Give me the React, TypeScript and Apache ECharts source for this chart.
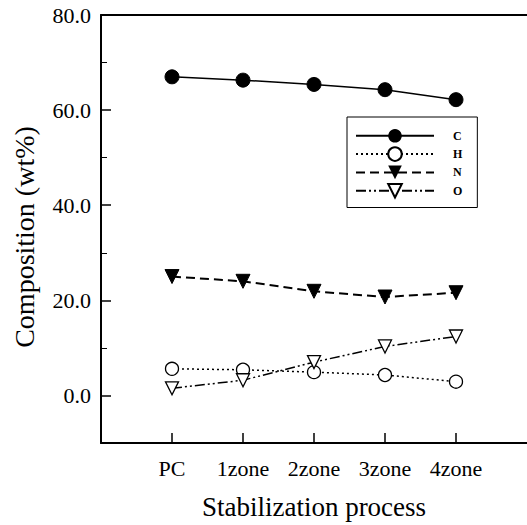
import React, { useEffect, useRef } from "react";
import * as echarts from "echarts";

const categories = ["PC", "1zone", "2zone", "3zone", "4zone"];
const seriesNames = ["C", "H", "N", "O"];
const cValues = [67.0, 66.3, 65.4, 64.3, 62.2];
const hValues = [5.6, 5.4, 4.9, 4.3, 2.9];
const nValues = [25.0, 24.0, 21.9, 20.7, 21.6];
const oValues = [1.5, 3.2, 7.0, 10.3, 12.4];
const yMajorTicks = [0, 20, 40, 60, 80];
const yMinorTicks = [-10, 10, 30, 50, 70];
const categoryIndices = [0, 1, 2, 3, 4];

const FONT = "Liberation Serif";

export default function App() {
  const ref = useRef<HTMLDivElement>(null);
  useEffect(() => {
    if (!ref.current) return;
    const chart = echarts.init(ref.current, undefined, { renderer: "svg" });
    const toData = (vals: number[]) => vals.map((v, i) => [categoryIndices[i], v]);
    const common = { type: "line", z: 3 };
    chart.setOption({
      animation: false,
      backgroundColor: "#ffffff",
      grid: { left: 101, top: 15, right: 0, bottom: 80, containLabel: false },
      legend: {
        orient: "vertical",
        left: 347,
        top: 117,
        padding: [12, 15, 9, 8],
        itemWidth: 78,
        itemHeight: 17,
        itemGap: 3.7,
        borderColor: "#000",
        borderWidth: 1,
        backgroundColor: "#fff",
        textStyle: {
          fontFamily: FONT,
          fontSize: 12,
          fontWeight: "bold",
          color: "#000",
          padding: [0, 0, 0, 14],
        },
        data: seriesNames,
      },
      xAxis: [
        {
          type: "value",
          min: -1,
          max: 5,
          position: "bottom",
          splitLine: { show: false },
          axisLine: { show: true, onZero: false, lineStyle: { color: "#000", width: 2 } },
          axisTick: {
            show: true,
            inside: true,
            length: 10,
            customValues: categoryIndices,
            lineStyle: { color: "#000", width: 1.5 },
          },
          axisLabel: {
            customValues: categoryIndices,
            formatter: (v: number) => categories[Math.round(v)] ?? "",
            fontFamily: FONT,
            fontSize: 22,
            color: "#000",
            margin: 14,
          },
          name: "Stabilization process",
          nameLocation: "middle",
          nameGap: 50,
          nameTextStyle: { fontFamily: FONT, fontSize: 27, color: "#000" },
        },
        {
          type: "value",
          min: -1,
          max: 5,
          position: "top",
          splitLine: { show: false },
          axisLine: { show: true, onZero: false, lineStyle: { color: "#000", width: 2 } },
          axisTick: { show: false },
          axisLabel: { show: false },
        },
      ],
      yAxis: [
        {
          type: "value",
          min: -10,
          max: 80,
          position: "left",
          splitLine: { show: false },
          axisLine: { show: true, onZero: false, lineStyle: { color: "#000", width: 2 } },
          axisTick: {
            show: true,
            inside: true,
            length: 10,
            customValues: yMajorTicks,
            lineStyle: { color: "#000", width: 1.5 },
          },
          axisLabel: {
            customValues: yMajorTicks,
            formatter: (v: number) => v.toFixed(1),
            fontFamily: FONT,
            fontSize: 22,
            color: "#000",
            margin: 10,
          },
        },
        {
          type: "value",
          min: -10,
          max: 80,
          position: "left",
          splitLine: { show: false },
          axisLine: { show: false, onZero: false },
          axisTick: {
            show: true,
            inside: true,
            length: 6,
            customValues: yMinorTicks,
            lineStyle: { color: "#000", width: 1 },
          },
          axisLabel: { show: false },
        },
      ],
      graphic: [
        {
          type: "text",
          x: 24,
          y: 237,
          rotation: Math.PI / 2,
          style: {
            text: "Composition (wt%)",
            fontFamily: FONT,
            fontSize: 28,
            fill: "#000",
            align: "center",
            verticalAlign: "middle",
          },
        },
      ],
      series: [
        {
          ...common,
          name: seriesNames[0],
          data: toData(cValues),
          symbol: "circle",
          symbolSize: 14,
          itemStyle: { color: "#000", borderColor: "#000" },
          lineStyle: { color: "#000", width: 1.5, type: "solid" },
        },
        {
          ...common,
          name: seriesNames[1],
          data: toData(hValues),
          symbol: "circle",
          symbolSize: 13,
          itemStyle: { color: "#fff", borderColor: "#000", borderWidth: 1.3 },
          lineStyle: { color: "#000", width: 1.5, type: [2, 3] },
        },
        {
          ...common,
          name: seriesNames[2],
          data: toData(nValues),
          symbol: "triangle",
          symbolRotate: 180,
          symbolSize: 14,
          itemStyle: { color: "#000", borderColor: "#000" },
          lineStyle: { color: "#000", width: 2, type: [9, 5] },
        },
        {
          ...common,
          name: seriesNames[3],
          data: toData(oValues),
          symbol: "triangle",
          symbolRotate: 180,
          symbolSize: 13,
          itemStyle: { color: "#fff", borderColor: "#000", borderWidth: 1.3 },
          lineStyle: { color: "#000", width: 1.5, type: [10, 3, 2, 3, 2, 3] },
        },
      ],
    });
    return () => chart.dispose();
  }, []);
  return <div ref={ref} style={{ width: 527, height: 525, position: "absolute", left: 0, top: 0 }} />;
}
